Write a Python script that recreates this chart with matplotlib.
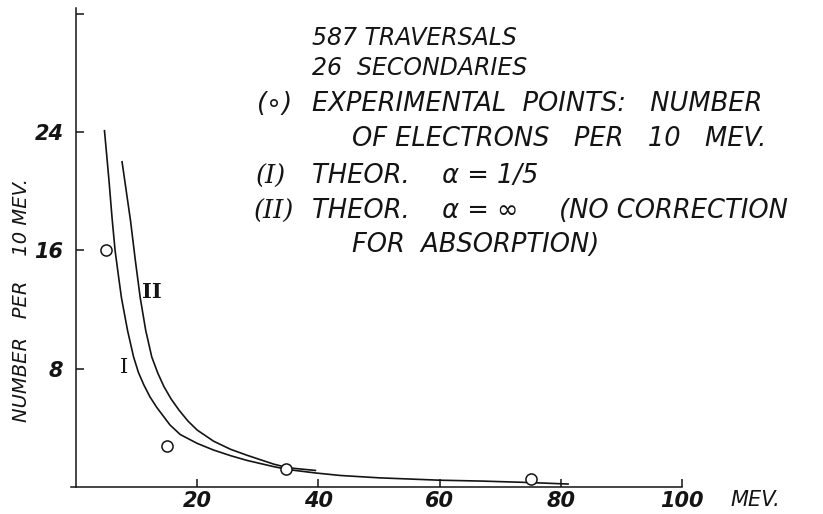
import matplotlib
matplotlib.use("Agg")
import matplotlib.pyplot as plt

# experimental points (energy in MeV, number per 10 MeV)
exp_x = [4.9, 15.0, 34.7, 75.0]
exp_y = [16.0, 2.8, 1.2, 0.55]

# curve I: theor. alpha = 1/5
curve1_x = [4.7, 5.1, 5.45, 5.95, 6.45, 7.0, 7.5, 8.5, 9.5, 10.3, 11.2, 12.2, 13.3,
            15.5, 17.2, 20.0, 22.7, 25.5, 28.2, 32.6, 35.0, 39.5, 43.6, 50.0,
            60.0, 67.0, 75.0, 81.2]
curve1_y = [24.1, 22.3, 20.7, 18.2, 16.0, 14.3, 12.8, 10.6, 8.8, 7.75, 6.9, 6.1, 5.4,
            4.2, 3.55, 2.95, 2.5, 2.12, 1.8, 1.38, 1.18, 0.95, 0.78, 0.62,
            0.46, 0.4, 0.3, 0.2]

# curve II: theor. alpha = infinity
curve2_x = [7.6, 8.3, 9.0, 9.8, 10.6, 11.5, 12.5, 13.5, 14.5, 15.7, 17.0, 18.5,
            20.0, 22.7, 25.5, 28.2, 32.6, 35.0, 39.5]
curve2_y = [22.0, 20.0, 18.0, 15.3, 12.8, 10.6, 8.8, 7.7, 6.8, 5.95, 5.2, 4.45,
            3.85, 3.1, 2.55, 2.15, 1.55, 1.3, 1.12]

xticks = [20, 40, 60, 80, 100]
xtick_labels = ["20", "40", "60", "80", "100"]
yticks = [8, 16, 24, 32]
ytick_labels = ["8", "16", "24", ""]

W, H = 823, 514
ink = "#141414"
hand = dict(family="DejaVu Sans", style="italic", color=ink)


def px(x, y):
    return x / W, 1 - y / H


fig = plt.figure(figsize=(W / 100, H / 100), dpi=100)
ax = fig.add_axes([76 / W, 27 / H, 606 / W, 479 / H])
ax.set_xlim(0, 100)
ax.set_ylim(0, 32.4)

ax.plot(curve1_x, curve1_y, color=ink, lw=1.2)
ax.plot(curve2_x, curve2_y, color=ink, lw=1.2)
ax.plot(exp_x, exp_y, "o", ms=8, mfc="white", mec=ink, mew=1.1)

ax.text(7.9, 8.1, "I", fontsize=15, family="DejaVu Serif", color=ink,
        ha="center", va="center")
ax.text(12.5, 13.2, "II", fontsize=15, family="DejaVu Serif", color=ink,
        fontweight="bold", ha="center", va="center")

for s in ["top", "right"]:
    ax.spines[s].set_visible(False)
for s in ["left", "bottom"]:
    ax.spines[s].set_linewidth(1.1)
    ax.spines[s].set_color(ink)
ax.spines["bottom"].set_bounds(-0.8, 100)
ax.set_clip_on(False)

ax.set_xticks(xticks)
ax.set_xticklabels(xtick_labels)
ax.set_yticks(yticks)
ax.set_yticklabels(ytick_labels)
ax.tick_params(direction="in", length=6, width=1.1, color=ink)
ax.tick_params(axis="x", pad=3)
ax.tick_params(axis="y", pad=9)
for lab in ax.get_xticklabels() + ax.get_yticklabels():
    lab.set_fontsize(15)
    lab.set_fontstyle("italic")
    lab.set_fontweight("bold")
    lab.set_color(ink)

fig.text(*px(730, 500), "MEV.", fontsize=15, va="center", ha="left", **hand)
fig.text(*px(22, 300), "NUMBER   PER    10 MEV.", fontsize=14, rotation=90,
         va="center", ha="center", **hand)

fs = 18.5
fig.text(*px(312, 38), "587 TRAVERSALS", fontsize=17, va="center", **hand)
fig.text(*px(312, 68), "26  SECONDARIES", fontsize=17, va="center", **hand)
fig.text(*px(256, 104), "(\u2218)", fontsize=fs, va="center", **hand)
fig.text(*px(312, 104), "EXPERIMENTAL  POINTS:   NUMBER", fontsize=fs, va="center", **hand)
fig.text(*px(352, 139), "OF ELECTRONS   PER   10   MEV.", fontsize=fs, va="center", **hand)
fig.text(*px(256, 176), "(I)", fontsize=fs, va="center", color=ink, family="DejaVu Serif", style="italic")
fig.text(*px(312, 176), "THEOR.    \u03b1 = 1/5", fontsize=fs, va="center", **hand)
fig.text(*px(254, 211), "(II)", fontsize=fs, va="center", color=ink, family="DejaVu Serif", style="italic")
fig.text(*px(312, 211), "THEOR.    \u03b1 = \u221e     (NO CORRECTION", fontsize=fs, va="center", **hand)
fig.text(*px(352, 245), "FOR  ABSORPTION)", fontsize=fs, va="center", **hand)

fig.savefig("out.png", dpi=100, facecolor="white")
